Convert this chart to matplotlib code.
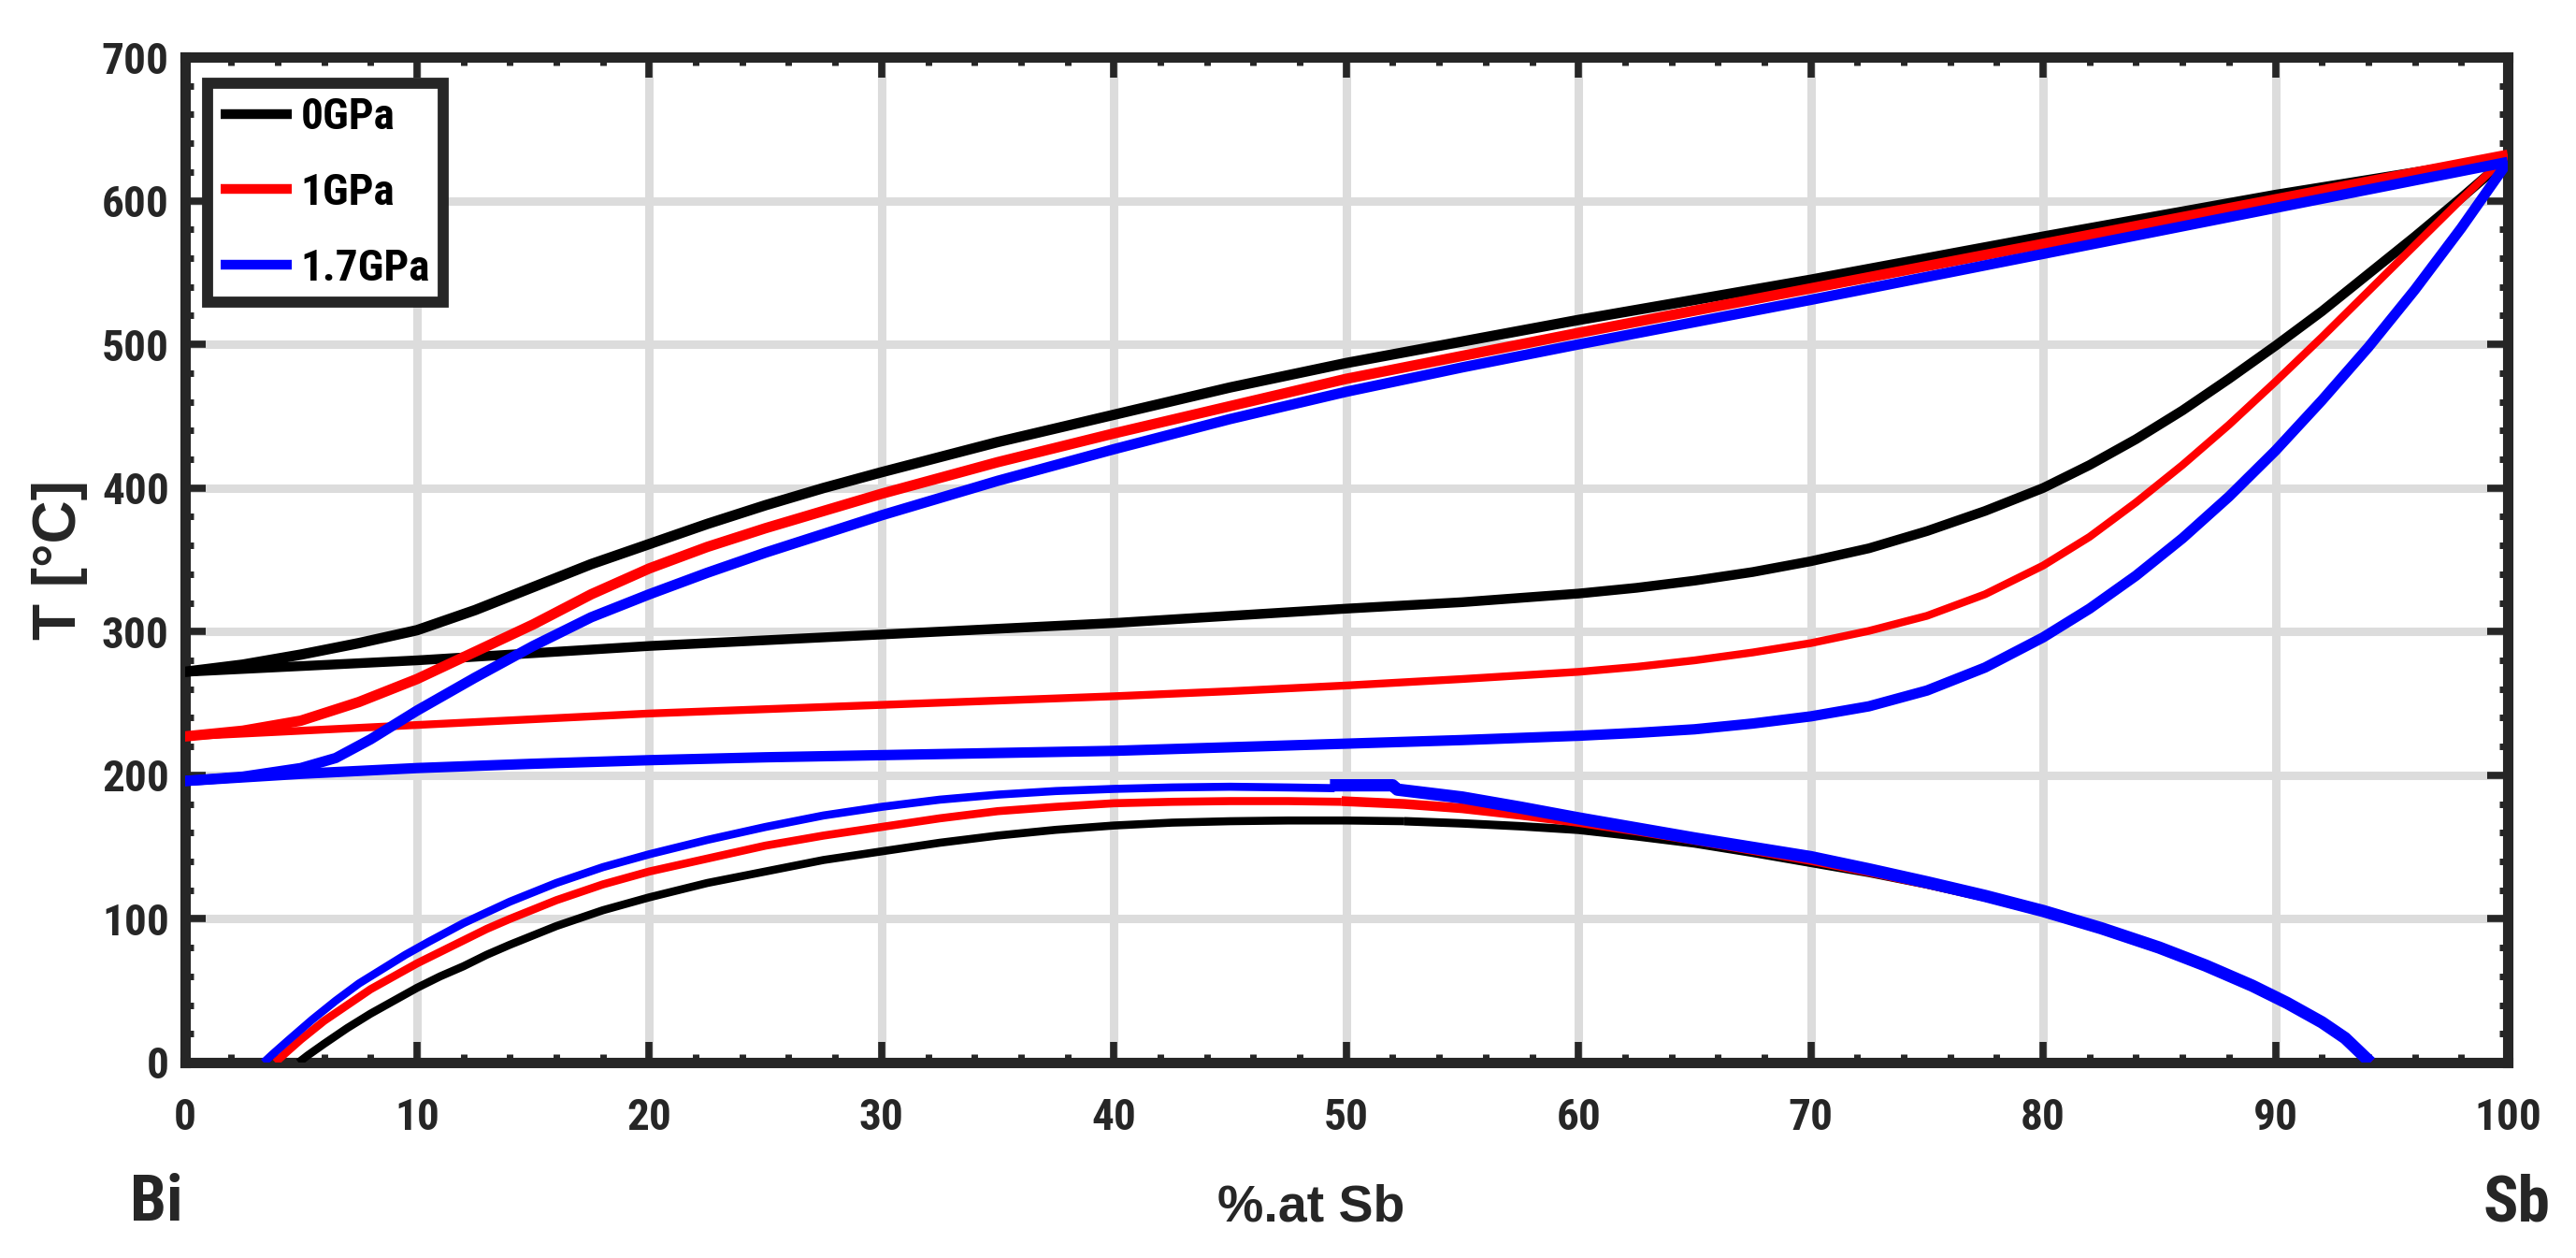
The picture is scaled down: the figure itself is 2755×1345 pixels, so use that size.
import numpy as np
import matplotlib
matplotlib.use("Agg")
import matplotlib.pyplot as plt
from matplotlib.lines import Line2D
from matplotlib.ticker import MultipleLocator

# composition (% at. Sb) and temperature (C)
# liquidus
liq0_x = [0, 2.5, 5, 7.5, 10, 12.5, 15, 17.5, 20, 22.5, 25, 27.5, 30, 35, 40, 45, 50, 55, 60, 70, 80, 90, 100]
liq0_t = [272, 277, 284, 292, 301, 315, 331, 347, 361, 375, 388, 400, 411, 432, 451, 470, 487, 502, 517, 545,
          575, 604, 630]
liq1_x = [0, 2.5, 5, 7.5, 10, 12.5, 15, 17.5, 20, 22.5, 25, 27.5, 30, 35, 40, 45, 50, 55, 60, 70, 80, 90, 100]
liq1_t = [227, 231, 238, 251, 267, 286, 305, 326, 344, 359, 372, 384, 396, 418, 438, 457, 476, 492, 508, 539,
          570, 601, 632]
liq2_x = [0, 2.5, 5, 6.5, 8, 10, 12.5, 15, 17.5, 20, 22.5, 25, 27.5, 30, 35, 40, 45, 50, 55, 60, 70, 80, 90, 100]
liq2_t = [196, 199, 205, 212, 225, 245, 268, 290, 310, 326, 341, 355, 368, 381, 405, 427, 448, 467, 484, 500,
          531, 563, 595, 627]

# solidus
sol0_x = [0, 5, 10, 15, 20, 25, 30, 35, 40, 45, 50, 55, 60, 62.5, 65, 67.5, 70, 72.5, 75, 77.5, 80, 82, 84, 86,
          88, 90, 92, 94, 96, 98, 100]
sol0_t = [272, 276, 280, 285, 290, 294, 298, 302, 306, 311, 316, 320.5, 326.5, 330.5, 335.5, 341.5, 349, 358,
          370, 384, 400, 416, 434, 454, 476, 499, 523, 549, 575, 602, 630]
sol1_x = [0, 5, 10, 15, 20, 25, 30, 35, 40, 45, 50, 55, 60, 62.5, 65, 67.5, 70, 72.5, 75, 77.5, 80, 82, 84, 86,
          88, 90, 92, 94, 96, 98, 100]
sol1_t = [227, 231, 235, 239, 243, 246, 249, 252, 255, 258.5, 262.5, 267, 272, 275.5, 280, 285.5, 292, 300.5,
          311, 326, 346, 366, 390, 416, 444, 474, 505, 537, 569, 601, 632]
sol2_x = [0, 5, 10, 15, 20, 25, 30, 35, 40, 45, 50, 55, 60, 62.5, 65, 67.5, 70, 72.5, 75, 77.5, 80, 82, 84, 86,
          88, 90, 92, 94, 96, 98, 100]
sol2_t = [196, 201, 205, 208, 210.5, 212.5, 214, 215.5, 217, 219.5, 222, 224.5, 227.5, 229.5, 232, 236, 241,
          248, 259, 275, 296, 316, 339, 365, 394, 426, 461, 498, 538, 581, 627]

# lower dome, left part (thin) and right part (thick)
dome0a_x = [4.9, 5.3, 6, 7, 8, 9, 10, 11, 12, 13, 14, 16, 18, 20, 22.5, 25, 27.5, 30, 32.5, 35, 37.5, 40,
            42.5, 45, 47.5, 50, 52.5]
dome0a_t = [0, 5, 13, 24, 34, 43, 52, 60, 67, 75, 82, 95, 106, 115, 125, 133, 141, 147, 153, 158, 162, 165,
            167, 168, 168.5, 168.5, 168]
dome0b_x = [52.5, 55, 57.5, 60, 62.5, 65, 67.5, 70, 72.5, 75, 77.5, 80, 82.5, 85, 87, 89, 90.5, 92, 93, 94.1]
dome0b_t = [168, 166.5, 164.5, 162, 157.5, 152.5, 146, 139, 132, 124, 115, 105, 93, 79.5, 67, 53, 41, 28, 17, 0]
dome1a_x = [3.9, 4.3, 5, 6, 7, 8, 9, 10, 11, 12, 13, 14, 16, 18, 20, 22.5, 25, 27.5, 30, 32.5, 35, 37.5, 40,
            42.5, 45, 47.5, 49.8]
dome1a_t = [0, 6, 16, 29, 40, 51, 60, 69, 77, 85, 93, 100, 113, 124, 133, 142, 151, 158, 164, 170, 175, 178,
            180.5, 181.5, 182, 182, 181.5]
dome1b_x = [49.8, 52.5, 55, 57.5, 60, 62.5, 65, 67.5, 70, 72.5, 75, 77.5, 80, 82.5, 85, 87, 89, 90.5, 92, 93,
            94.1]
dome1b_t = [182, 180, 177, 172.5, 167.5, 161.5, 155, 148, 141, 133, 124.5, 115.5, 105, 93, 79.5, 67, 53, 41,
            28, 17, 0]
dome2a_x = [3.4, 3.8, 4.5, 5.5, 6.5, 7.5, 8.5, 9.5, 10.5, 12, 14, 16, 18, 20, 22.5, 25, 27.5, 30, 32.5, 35,
            37.5, 40, 42.5, 45, 47.5, 49.5]
dome2a_t = [0, 6, 16, 30, 43, 55, 65, 75, 84, 97, 112, 125, 136, 145, 155, 164, 172, 178, 183, 186.5, 189,
            190.5, 191.5, 192, 191.5, 191]
dome2b_x = [49.3, 52, 52.2, 55, 57.5, 60, 62.5, 65, 67.5, 70, 72.5, 75, 77.5, 80, 82.5, 85, 87, 89, 90.5, 92,
            93, 94.1]
dome2b_t = [193, 193, 190, 184.5, 177.5, 170, 163, 156, 149.5, 143, 134.5, 125.5, 116, 105.5, 93.5, 80, 67.5,
            53.5, 41.5, 28, 17, 0]

labels = ["0GPa", "1GPa", "1.7GPa"]
colors = ["#000000", "#ff0000", "#0000ff"]

narrow = ["Roboto Condensed", "Liberation Sans", "DejaVu Sans"]
wide = ["Liberation Sans", "DejaVu Sans"]
plt.rcParams["font.weight"] = "bold"
dark = "#262626"

fig = plt.figure(figsize=(27.55, 13.45), dpi=100)
ax = fig.add_axes([0.0717, 0.1554, 0.9018, 0.7992])

liq = [(liq0_x, liq0_t), (liq1_x, liq1_t), (liq2_x, liq2_t)]
sol = [(sol0_x, sol0_t), (sol1_x, sol1_t), (sol2_x, sol2_t)]
dome_a = [(dome0a_x, dome0a_t), (dome1a_x, dome1a_t), (dome2a_x, dome2a_t)]
dome_b = [(dome0b_x, dome0b_t), (dome1b_x, dome1b_t), (dome2b_x, dome2b_t)]
sol_lw = [7.5, 6.0, 8.0]
domeb_lw = [6.5, 7.5, 9.5]

for i in range(3):
    ax.plot(*liq[i], color=colors[i], lw=8.0, solid_capstyle="butt", solid_joinstyle="round", zorder=3)
    ax.plot(*sol[i], color=colors[i], lw=sol_lw[i], solid_capstyle="butt", solid_joinstyle="round", zorder=3)
    ax.plot(*dome_a[i], color=colors[i], lw=6.2, solid_capstyle="butt", solid_joinstyle="round", zorder=3)
    ax.plot(*dome_b[i], color=colors[i], lw=domeb_lw[i], solid_capstyle="butt", solid_joinstyle="round",
            zorder=3)

ax.set_xlim(0, 100)
ax.set_ylim(0, 700)
ax.xaxis.set_major_locator(MultipleLocator(10))
ax.xaxis.set_minor_locator(MultipleLocator(2))
ax.yaxis.set_major_locator(MultipleLocator(100))
ax.yaxis.set_minor_locator(MultipleLocator(20))

ax.grid(True, which="major", color="#dcdcdc", lw=6.5)
ax.set_axisbelow(True)

for s in ax.spines.values():
    s.set_linewidth(8)
    s.set_color(dark)

ax.tick_params(which="both", direction="in", top=True, right=True, color=dark)
ax.tick_params(which="major", length=16, width=5.5)
ax.tick_params(which="minor", length=6.5, width=5)
ax.tick_params(axis="x", which="major", pad=27)
ax.tick_params(axis="y", which="major", pad=12)
for lab in ax.get_xticklabels() + ax.get_yticklabels():
    lab.set_fontfamily(narrow)
    lab.set_fontsize(34)
    lab.set_fontweight("bold")
    lab.set_color(dark)

ax.set_ylabel("T [°C]", family=wide, fontsize=46, fontweight="bold", color=dark, labelpad=11)

fig.text(0.509, 0.0297, "%.at Sb", family=wide, fontsize=40, fontweight="bold",
         color=dark, ha="center", va="baseline")
fig.text(0.0606, 0.0297, "Bi", family=narrow, fontsize=50, fontweight="bold",
         color=dark, ha="center", va="baseline")
fig.text(0.9768, 0.0297, "Sb", family=narrow, fontsize=50, fontweight="bold",
         color=dark, ha="center", va="baseline")

handles = [Line2D([], [], color=c, lw=7.5, solid_capstyle="butt") for c in colors]
leg = ax.legend(handles, labels, loc="upper left", bbox_to_anchor=(0.0099, 0.974),
                borderaxespad=0, borderpad=0.3, handlelength=1.6, handletextpad=0.2,
                labelspacing=0.78, fancybox=False, framealpha=1,
                prop={"family": narrow, "size": 34, "weight": "bold"})
leg.get_frame().set_edgecolor(dark)
leg.get_frame().set_linewidth(8.5)
leg.set_zorder(5)

fig.savefig("out.png", dpi=100, facecolor="white")
